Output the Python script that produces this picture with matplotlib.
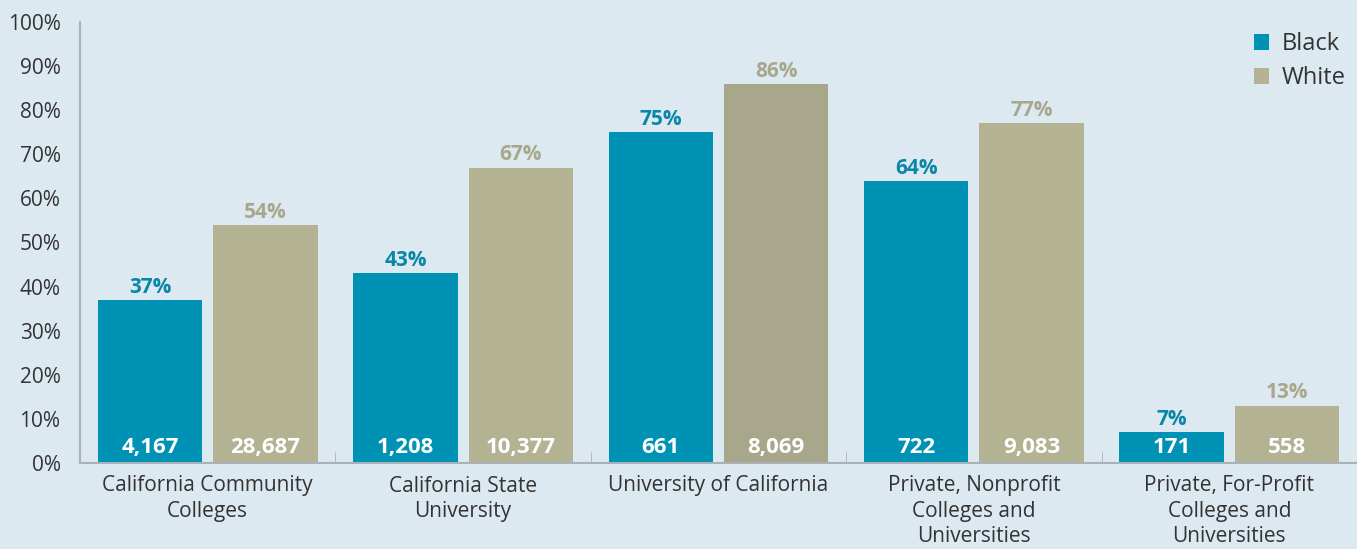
import numpy as np
import matplotlib.pyplot as plt

# Data
categories = ['California Community\nColleges', 'California State\nUniversity',
              'University of California', 'Private, Nonprofit\nColleges and\nUniversities',
              'Private, For-Profit\nColleges and\nUniversities']
black_pct = [37, 43, 75, 64, 7]
white_pct = [54, 67, 86, 77, 13]
black_n = ['4,167', '1,208', '661', '722', '171']
white_n = ['28,687', '10,377', '8,069', '9,083', '558']

bg = '#dce9f0'
teal = '#0092b4'
khaki = '#b3b394'
khaki_hi = '#a8a78c'
txt = '#333333'

plt.rcParams['font.family'] = ['Open Sans', 'DejaVu Sans']

fig = plt.figure(figsize=(13.57, 5.49), dpi=100, facecolor=bg)
ax = fig.add_axes([80/1357, 1-463/549, 1-80/1357, (463-22)/549], facecolor=bg)

x = np.arange(len(categories))
w = 0.409
off = 0.226
white_cols = [khaki, khaki, khaki_hi, khaki, khaki]
ax.bar(x - off, black_pct, w, color=teal, label='Black', zorder=2)
ax.bar(x + off, white_pct, w, color=white_cols, label='White', zorder=2)

for i in range(len(x)):
    ax.text(x[i] - off, black_pct[i] + 0.5, f'{black_pct[i]}%', ha='center', va='bottom',
            color='#0a86a8', fontsize=15, fontweight='bold')
    ax.text(x[i] + off, white_pct[i] + 0.5, f'{white_pct[i]}%', ha='center', va='bottom',
            color=khaki_hi, fontsize=15, fontweight='bold')
    ax.text(x[i] - off, 3.6, black_n[i], ha='center', va='center',
            color='white', fontsize=16, fontweight='bold')
    ax.text(x[i] + off, 3.6, white_n[i], ha='center', va='center',
            color='white', fontsize=16, fontweight='bold')

ax.set_xlim((80 - 208.5) / 257, (1357 - 208.5) / 257)
ax.set_ylim(0, 100)
ax.set_yticks(range(0, 101, 10))
ax.set_yticklabels([f'{v}%' for v in range(0, 101, 10)], fontsize=15, color=txt)
ax.set_xticks(x)
ax.set_xticklabels(categories, fontsize=15, color=txt, linespacing=1.25)
ax.set_xticks(np.arange(0.5, 4.6, 1), minor=True)
ax.tick_params(axis='x', which='major', length=0, pad=9)
ax.tick_params(axis='x', which='minor', direction='in', length=8, color='#aab2b8')
ax.tick_params(axis='y', length=0, pad=14)

for s in ['top', 'right']:
    ax.spines[s].set_visible(False)
for s in ['left', 'bottom']:
    ax.spines[s].set_color('#aab2b8')
    ax.spines[s].set_linewidth(1.5)

leg = ax.legend(loc='upper right', bbox_to_anchor=(1.008, 1.025), frameon=False, fontsize=17,
                handlelength=0.65, handleheight=0.65, handletextpad=0.55, labelspacing=0.42)
for t in leg.get_texts():
    t.set_color(txt)

fig.savefig('out.png', dpi=100, facecolor=bg)
